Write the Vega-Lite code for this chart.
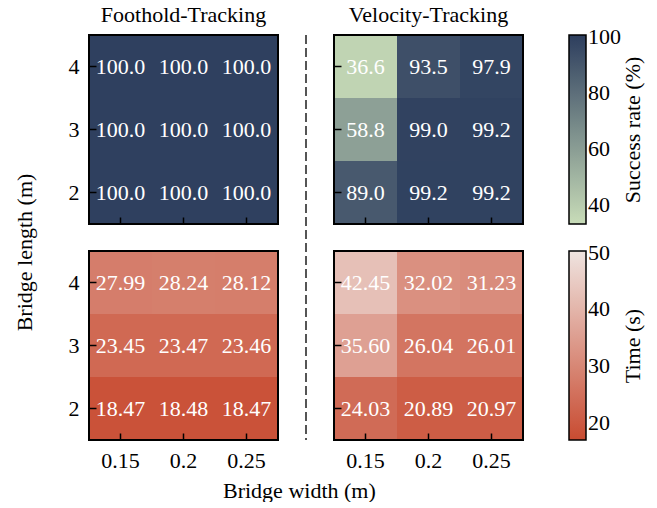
{
  "$schema": "https://vega.github.io/schema/vega-lite/v6.json",
  "background": "white",
  "padding": {"left": 13, "top": 4, "right": 0, "bottom": 0},
  "title": {"text": "Bridge width (m)", "orient": "bottom", "anchor": "start", "frame": "bounds", "dx": 209, "offset": 10},
  "config": {
    "font": "Liberation Serif",
    "view": {"stroke": null},
    "axis": {"domain": false, "grid": false, "tickColor": "black", "tickWidth": 1.5, "tickSize": -7, "labelFont": "Liberation Serif", "labelFontSize": 22, "labelColor": "black", "labelPadding": 17, "title": null, "zindex": 1, "labelAngle": 0},
    "title": {"font": "Liberation Serif", "fontSize": 22, "fontWeight": "normal", "color": "black", "offset": 7},
    "legend": {"type": "gradient", "orient": "right", "direction": "vertical", "gradientLength": 189, "gradientThickness": 17, "offset": 46, "labelFont": "Liberation Serif", "labelFontSize": 22, "labelColor": "black", "labelOffset": 8, "titleFont": "Liberation Serif", "titleFontSize": 22, "titleFontWeight": "normal", "titleColor": "black", "titleOrient": "right", "titleAnchor": "middle", "gradientStrokeColor": "black", "gradientStrokeWidth": 1.5}
  },
  "datasets": {
    "cells": [
      {"policy": "FT", "w": "0.15", "l": "4", "s": 100.0, "t": 27.99},
      {"policy": "FT", "w": "0.2", "l": "4", "s": 100.0, "t": 28.24},
      {"policy": "FT", "w": "0.25", "l": "4", "s": 100.0, "t": 28.12},
      {"policy": "FT", "w": "0.15", "l": "3", "s": 100.0, "t": 23.45},
      {"policy": "FT", "w": "0.2", "l": "3", "s": 100.0, "t": 23.47},
      {"policy": "FT", "w": "0.25", "l": "3", "s": 100.0, "t": 23.46},
      {"policy": "FT", "w": "0.15", "l": "2", "s": 100.0, "t": 18.47},
      {"policy": "FT", "w": "0.2", "l": "2", "s": 100.0, "t": 18.48},
      {"policy": "FT", "w": "0.25", "l": "2", "s": 100.0, "t": 18.47},
      {"policy": "VT", "w": "0.15", "l": "4", "s": 36.6, "t": 42.45},
      {"policy": "VT", "w": "0.2", "l": "4", "s": 93.5, "t": 32.02},
      {"policy": "VT", "w": "0.25", "l": "4", "s": 97.9, "t": 31.23},
      {"policy": "VT", "w": "0.15", "l": "3", "s": 58.8, "t": 35.60},
      {"policy": "VT", "w": "0.2", "l": "3", "s": 99.0, "t": 26.04},
      {"policy": "VT", "w": "0.25", "l": "3", "s": 99.2, "t": 26.01},
      {"policy": "VT", "w": "0.15", "l": "2", "s": 89.0, "t": 24.03},
      {"policy": "VT", "w": "0.2", "l": "2", "s": 99.2, "t": 20.89},
      {"policy": "VT", "w": "0.25", "l": "2", "s": 99.2, "t": 20.97}
    ],
    "divider": [{"p": 0.5}]
  },
  "spacing": 17,
  "resolve": {"scale": {"color": "independent"}, "legend": {"color": "independent"}},
  "hconcat": [
    {
      "title": {"text": "Bridge length (m)", "orient": "left", "anchor": "middle", "offset": 31, "dx": -15},
      "spacing": 25,
      "resolve": {"scale": {"color": "independent"}, "legend": {"color": "independent"}},
      "vconcat": [
        {
          "width": 189, "height": 189,
          "title": "Foothold-Tracking",
          "data": {"name": "cells"},
          "transform": [{"filter": "datum.policy === 'FT'"}],
          "layer": [
            {"mark": {"type": "rect"}, "encoding": {
              "x": {"field": "w", "type": "ordinal", "sort": ["0.15", "0.2", "0.25"], "axis": {"labels": false, "zindex": 1}},
              "y": {"field": "l", "type": "ordinal", "sort": ["4", "3", "2"], "axis": {"zindex": 1}},
              "color": {"field": "s", "type": "quantitative", "scale": {"domain": [33.2, 100.7], "range": ["#c8dcb8", "#2d3e5e"], "interpolate": "rgb"}, "legend": null}}},
            {"mark": {"type": "text", "color": "white", "fontSize": 22, "font": "Liberation Serif"}, "encoding": {
              "x": {"field": "w", "type": "ordinal", "sort": ["0.15", "0.2", "0.25"]},
              "y": {"field": "l", "type": "ordinal", "sort": ["4", "3", "2"]},
              "text": {"field": "s", "type": "quantitative", "format": ".1f"}}},
            {"mark": {"type": "rect", "filled": false, "stroke": "black", "strokeWidth": 2}}
          ]
        },
        {
          "width": 189, "height": 189,
          "data": {"name": "cells"},
          "transform": [{"filter": "datum.policy === 'FT'"}],
          "layer": [
            {"mark": {"type": "rect"}, "encoding": {
              "x": {"field": "w", "type": "ordinal", "sort": ["0.15", "0.2", "0.25"], "axis": {"zindex": 1}},
              "y": {"field": "l", "type": "ordinal", "sort": ["4", "3", "2"], "axis": {"zindex": 1}},
              "color": {"field": "t", "type": "quantitative", "scale": {"domain": [17, 50.3], "range": ["#c84b31", "#efe4e0"], "interpolate": "rgb"}, "legend": null}}},
            {"mark": {"type": "text", "color": "white", "fontSize": 22, "font": "Liberation Serif"}, "encoding": {
              "x": {"field": "w", "type": "ordinal", "sort": ["0.15", "0.2", "0.25"]},
              "y": {"field": "l", "type": "ordinal", "sort": ["4", "3", "2"]},
              "text": {"field": "t", "type": "quantitative", "format": ".2f"}}},
            {"mark": {"type": "rect", "filled": false, "stroke": "black", "strokeWidth": 2}}
          ]
        }
      ]
    },
    {
      "width": 20, "height": 405,
      "title": " ",
      "data": {"name": "divider"},
      "mark": {"type": "rule", "strokeDash": [9, 4], "color": "#555555", "strokeWidth": 2},
      "encoding": {
        "x": {"field": "p", "type": "quantitative", "scale": {"domain": [0, 1]}, "axis": null}
      }
    },
    {
      "spacing": 25,
      "resolve": {"scale": {"color": "independent"}, "legend": {"color": "independent"}},
      "vconcat": [
        {
          "width": 189, "height": 189,
          "title": "Velocity-Tracking",
          "data": {"name": "cells"},
          "transform": [{"filter": "datum.policy === 'VT'"}],
          "layer": [
            {"mark": {"type": "rect"}, "encoding": {
              "x": {"field": "w", "type": "ordinal", "sort": ["0.15", "0.2", "0.25"], "axis": {"labels": false, "zindex": 1}},
              "y": {"field": "l", "type": "ordinal", "sort": ["4", "3", "2"], "axis": {"labels": false, "zindex": 1}},
              "color": {"field": "s", "type": "quantitative", "scale": {"domain": [33.2, 100.7], "range": ["#c8dcb8", "#2d3e5e"], "interpolate": "rgb"}, "legend": {"title": "Success rate (%)", "titlePadding": 2, "values": [40, 60, 80, 100], "encode": {"title": {"update": {"angle": {"value": 270}, "baseline": {"value": "top"}}}}}}}},
            {"mark": {"type": "text", "color": "white", "fontSize": 22, "font": "Liberation Serif"}, "encoding": {
              "x": {"field": "w", "type": "ordinal", "sort": ["0.15", "0.2", "0.25"]},
              "y": {"field": "l", "type": "ordinal", "sort": ["4", "3", "2"]},
              "text": {"field": "s", "type": "quantitative", "format": ".1f"}}},
            {"mark": {"type": "rect", "filled": false, "stroke": "black", "strokeWidth": 2}}
          ]
        },
        {
          "width": 189, "height": 189,
          "data": {"name": "cells"},
          "transform": [{"filter": "datum.policy === 'VT'"}],
          "layer": [
            {"mark": {"type": "rect"}, "encoding": {
              "x": {"field": "w", "type": "ordinal", "sort": ["0.15", "0.2", "0.25"], "axis": {"zindex": 1}},
              "y": {"field": "l", "type": "ordinal", "sort": ["4", "3", "2"], "axis": {"labels": false, "zindex": 1}},
              "color": {"field": "t", "type": "quantitative", "scale": {"domain": [17, 50.3], "range": ["#c84b31", "#efe4e0"], "interpolate": "rgb"}, "legend": {"title": "Time (s)", "titlePadding": 13, "values": [20, 30, 40, 50], "encode": {"title": {"update": {"angle": {"value": 270}, "baseline": {"value": "top"}}}}}}}},
            {"mark": {"type": "text", "color": "white", "fontSize": 22, "font": "Liberation Serif"}, "encoding": {
              "x": {"field": "w", "type": "ordinal", "sort": ["0.15", "0.2", "0.25"]},
              "y": {"field": "l", "type": "ordinal", "sort": ["4", "3", "2"]},
              "text": {"field": "t", "type": "quantitative", "format": ".2f"}}},
            {"mark": {"type": "rect", "filled": false, "stroke": "black", "strokeWidth": 2}}
          ]
        }
      ]
    }
  ]
}
